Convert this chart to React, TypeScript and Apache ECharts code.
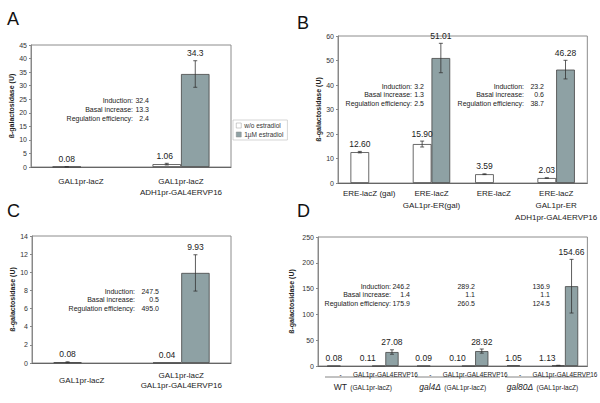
import React, { useEffect, useRef } from "react";
import * as echarts from "echarts";

const FONT = '"Liberation Sans", Arial, sans-serif';
const GREY = "#8ea1a4";
const EDGE = "#444";

// Panel A
const aCategories = ["GAL1pr-lacZ", "GAL1pr-lacZ\nADH1pr-GAL4ERVP16"];
const aWithout = [0.08, 1.06];
const aWithoutErr = [0.02, 0.3];
const aWith: (number | null)[] = [null, 34.3];
const aWithErr: (number | null)[] = [null, 4.9];
const aNoteLabels = ["Induction:", "Basal increase:", "Regulation efficiency:"];
const aNoteValues = ["32.4", "13.3", "2.4"];

// Panel B
const bCategories = ["ERE-lacZ (gal)", "ERE-lacZ\nGAL1pr-ER(gal)", "ERE-lacZ", "ERE-lacZ\nGAL1pr-ER\nADH1pr-GAL4ERVP16"];
const bWithout = [12.6, 15.9, 3.59, 2.03];
const bWithoutErr = [0.3, 1.2, 0.15, 0.1];
const bWith: (number | null)[] = [null, 51.01, null, 46.28];
const bWithErr: (number | null)[] = [null, 6.0, null, 3.8];
const bNoteLabels = ["Induction:", "Basal increase:", "Regulation efficiency:"];
const bNoteValues1 = ["3.2", "1.3", "2.5"];
const bNoteValues2 = ["23.2", "0.6", "38.7"];

// Panel C
const cCategories = ["GAL1pr-lacZ", "GAL1pr-lacZ\nGAL1pr-GAL4ERVP16"];
const cWithout = [0.08, 0.04];
const cWithoutErr = [0.05, 0];
const cWith: (number | null)[] = [null, 9.93];
const cWithErr: (number | null)[] = [null, 2.0];
const cNoteLabels = ["Induction:", "Basal increase:", "Regulation efficiency:"];
const cNoteValues = ["247.5", "0.5", "495.0"];

// Panel D
const dCategories = ["-", "GAL1pr-GAL4ERVP16", "-", "GAL1pr-GAL4ERVP16", "-", "GAL1pr-GAL4ERVP16"];
const dGroups = ["{n|WT} {s|(GAL1pr-lacZ)}", "{i|gal4Δ} {s|(GAL1pr-lacZ)}", "{i|gal80Δ} {s|(GAL1pr-lacZ)}"];
const dWithout = [0.08, 0.11, 0.09, 0.1, 1.05, 1.13];
const dWithoutErr = [0, 0, 0, 0, 0, 0.3];
const dWith: (number | null)[] = [null, 27.08, null, 28.92, null, 154.66];
const dWithErr: (number | null)[] = [null, 4.3, null, 4.0, null, 52];
const dNoteLabels = ["Induction:", "Basal increase:", "Regulation efficiency:"];
const dNoteValues1 = ["246.2", "1.4", "175.9"];
const dNoteValues2 = ["289.2", "1.1", "260.5"];
const dNoteValues3 = ["136.9", "1.1", "124.5"];

const fmtA = (v: number) => String(v);
const fmt2 = (v: number) => v.toFixed(2);

type Item = { cat: number; v: number; e: number; side: number; paired: boolean };

function buildItems(w: (number | null)[], we: (number | null)[], g: (number | null)[], ge: (number | null)[]): Item[] {
  const items: Item[] = [];
  w.forEach((v, i) => {
    if (v != null) items.push({ cat: i, v, e: we[i] || 0, side: 0, paired: g[i] != null });
  });
  g.forEach((v, i) => {
    if (v != null) items.push({ cat: i, v, e: ge[i] || 0, side: 1, paired: w[i] != null });
  });
  return items;
}

function panelSeries(
  idx: number,
  names: [string, string],
  w: (number | null)[],
  we: (number | null)[],
  g: (number | null)[],
  ge: (number | null)[],
  gapFrac: number,
  fmt: (v: number) => string,
  pairedShift = 0
) {
  const gap = Math.round(gapFrac * 100) + "%";
  const items = buildItems(w, we, g, ge);
  return [
    {
      type: "bar",
      name: names[0],
      xAxisIndex: idx,
      yAxisIndex: idx,
      data: w,
      barGap: "0%",
      barCategoryGap: gap,
      itemStyle: { color: "#ffffff", borderColor: EDGE, borderWidth: 0.8 },
      z: 2,
    },
    {
      type: "bar",
      name: names[1],
      xAxisIndex: idx,
      yAxisIndex: idx,
      data: g,
      barGap: "0%",
      barCategoryGap: gap,
      itemStyle: { color: GREY, borderColor: EDGE, borderWidth: 0.8 },
      z: 2,
    },
    {
      type: "custom",
      xAxisIndex: idx,
      yAxisIndex: idx,
      z: 5,
      clip: false,
      data: items.map((it) => [it.cat, it.v]),
      renderItem: (params: any, api: any) => {
        const it = items[params.dataIndex];
        const c0 = api.coord([it.cat, 0]);
        const band = api.size([1, 0])[0];
        const bw = (band * (1 - gapFrac)) / 2;
        const x = c0[0] + (it.side === 0 ? -bw / 2 : bw / 2);
        const yV = api.coord([it.cat, it.v])[1];
        const children: any[] = [];
        let top = yV;
        if (it.e > 0) {
          const yT = api.coord([it.cat, it.v + it.e])[1];
          const yB = api.coord([it.cat, Math.max(0, it.v - it.e)])[1];
          top = Math.min(yV, yT);
          const st = { stroke: "#333", lineWidth: 0.8 };
          children.push({ type: "line", shape: { x1: x, y1: yT, x2: x, y2: yB }, style: st });
          children.push({ type: "line", shape: { x1: x - 2, y1: yT, x2: x + 2, y2: yT }, style: st });
          children.push({ type: "line", shape: { x1: x - 2, y1: yB, x2: x + 2, y2: yB }, style: st });
        }
        const dx = it.side === 0 && it.paired ? pairedShift : 0;
        children.push({
          type: "text",
          x: x + dx,
          y: top - 3,
          style: {
            text: fmt(it.v),
            align: "center",
            verticalAlign: "bottom",
            fontSize: 8.5,
            fontFamily: FONT,
            fill: "#222",
          },
        });
        return { type: "group", children };
      },
    },
  ];
}

function notes(labels: string[], values: string[], xl: number, xv: number, ys: number[], withLabels = true) {
  const els: any[] = [];
  labels.forEach((l, i) => {
    if (withLabels)
      els.push({
        type: "text",
        x: xl,
        y: ys[i],
        style: { text: l, align: "right", verticalAlign: "middle", fontSize: 7, fontFamily: FONT, fill: "#222" },
      });
    els.push({
      type: "text",
      x: xv,
      y: ys[i],
      style: { text: values[i], align: "right", verticalAlign: "middle", fontSize: 7, fontFamily: FONT, fill: "#222" },
    });
  });
  return els;
}

function letter(t: string, x: number, y: number) {
  return {
    type: "text",
    x,
    y,
    style: { text: t, align: "left", verticalAlign: "middle", fontSize: 18, fontFamily: FONT, fill: "#111" },
  };
}

function yAxis(idx: number, max: number, interval: number, nameGap: number) {
  return {
    type: "value",
    gridIndex: idx,
    min: 0,
    max,
    interval,
    name: "ß-galactosidase (U)",
    nameLocation: "middle",
    nameGap,
    nameTextStyle: { fontSize: 7, fontWeight: "bold", fontFamily: FONT, color: "#222" },
    axisLine: { show: true, lineStyle: { color: "#888", width: 1 } },
    axisTick: { show: true, length: 2, lineStyle: { color: "#888" } },
    splitLine: { show: false },
    axisLabel: { fontSize: 7, fontFamily: FONT, color: "#333", margin: 4 },
  };
}

function xAxis(idx: number, data: string[], extra: any = {}) {
  return {
    type: "category",
    gridIndex: idx,
    data,
    axisLine: { show: true, lineStyle: { color: "#666", width: 1 } },
    axisTick: { show: false },
    splitLine: { show: false },
    axisLabel: {
      interval: 0,
      fontSize: 8,
      lineHeight: 11,
      fontFamily: FONT,
      color: "#222",
      margin: 9,
      ...(extra.axisLabel || {}),
    },
  };
}

export default function App() {
  const ref = useRef<HTMLDivElement>(null);
  useEffect(() => {
    if (!ref.current) return;
    const chart = echarts.init(ref.current, undefined, { renderer: "svg" });
    const gridBase = { show: true, borderColor: "#8c8c8c", borderWidth: 1, containLabel: false };
    const option: any = {
      animation: false,
      backgroundColor: "#ffffff",
      textStyle: { fontFamily: FONT },
      grid: [
        { ...gridBase, left: 31, top: 45, width: 200, height: 122 },
        { ...gridBase, left: 338, top: 36, width: 251, height: 147 },
        { ...gridBase, left: 32, top: 236, width: 199, height: 127 },
        { ...gridBase, left: 318, top: 237, width: 274, height: 129 },
      ],
      xAxis: [
        xAxis(0, aCategories, { axisLabel: { margin: 9 } }),
        xAxis(1, bCategories, { axisLabel: { margin: 4, lineHeight: 12 } }),
        xAxis(2, cCategories, { axisLabel: { margin: 17, verticalAlign: "middle", lineHeight: 10 } }),
        xAxis(3, dCategories.map((c, i) => c + "#" + i), {
          axisLabel: { fontSize: 6.4, margin: 3, formatter: (_v: string, i: number) => dCategories[i] },
        }),
        {
          type: "category",
          gridIndex: 3,
          position: "bottom",
          data: dGroups,
          axisLine: { show: false },
          axisTick: { show: false },
          splitLine: { show: false },
          axisLabel: {
            interval: 0,
            margin: 15,
            color: "#222",
            fontFamily: FONT,
            rich: {
              n: { fontSize: 8.5, fontFamily: FONT, color: "#222" },
              i: { fontSize: 8.5, fontStyle: "italic", fontFamily: FONT, color: "#222" },
              s: { fontSize: 6.6, fontFamily: FONT, color: "#222" },
            },
          },
        },
      ],
      yAxis: [yAxis(0, 45, 5, 15), yAxis(1, 60, 10, 14), yAxis(2, 14, 2, 16), yAxis(3, 250, 50, 23)],
      legend: {
        data: [
          { name: "w/o estradiol", itemStyle: { color: "#ffffff", borderColor: "#999", borderWidth: 0.5 } },
          { name: "1µM estradiol", itemStyle: { color: GREY, borderColor: "#888", borderWidth: 0.5 } },
        ],
        orient: "vertical",
        left: 233,
        top: 120,
        itemWidth: 5,
        itemHeight: 5,
        itemGap: 2,
        padding: [2, 4, 2, 3],
        borderColor: "#bbb",
        borderWidth: 0.6,
        icon: "rect",
        selectedMode: false,
        textStyle: { fontSize: 6.5, fontFamily: FONT, color: "#333", padding: [0, 0, 0, -2] },
      },
      series: [
        ...panelSeries(0, ["w/o estradiol", "1µM estradiol"], aWithout, aWithoutErr, aWith, aWithErr, 0.43, fmtA, -2),
        ...panelSeries(1, ["B w/o", "B with"], bWithout, bWithoutErr, bWith, bWithErr, 0.4, fmt2),
        ...panelSeries(2, ["C w/o", "C with"], cWithout, cWithoutErr, cWith, cWithErr, 0.43, fmt2),
        ...panelSeries(3, ["D w/o", "D with"], dWithout, dWithoutErr, dWith, dWithErr, 0.41, fmt2, -11),
      ],
      graphic: [
        letter("A", 7, 19),
        letter("B", 297, 23),
        letter("C", 7, 211),
        letter("D", 297, 211),
        ...notes(aNoteLabels, aNoteValues, 133, 149, [100, 109, 118]),
        ...notes(bNoteLabels, bNoteValues1, 412, 424, [86, 94, 103]),
        ...notes(bNoteLabels, bNoteValues2, 524, 544, [86, 94, 103]),
        ...notes(cNoteLabels, cNoteValues, 135, 159, [291, 299, 308]),
        ...notes(dNoteLabels, dNoteValues1, 391, 410, [286, 294, 303]),
        ...notes(dNoteLabels, dNoteValues2, 0, 475, [286, 294, 303], false),
        ...notes(dNoteLabels, dNoteValues3, 0, 550, [286, 294, 303], false),
        { type: "line", shape: { x1: 325, y1: 377, x2: 410, y2: 377 }, style: { stroke: "#666", lineWidth: 0.8 } },
        { type: "line", shape: { x1: 415, y1: 377, x2: 500, y2: 377 }, style: { stroke: "#666", lineWidth: 0.8 } },
        { type: "line", shape: { x1: 505, y1: 377, x2: 591, y2: 377 }, style: { stroke: "#666", lineWidth: 0.8 } },
      ],
    };
    chart.setOption(option);
    return () => chart.dispose();
  }, []);
  return <div ref={ref} style={{ position: "fixed", left: 0, top: 0, width: 600, height: 403 }} />;
}
